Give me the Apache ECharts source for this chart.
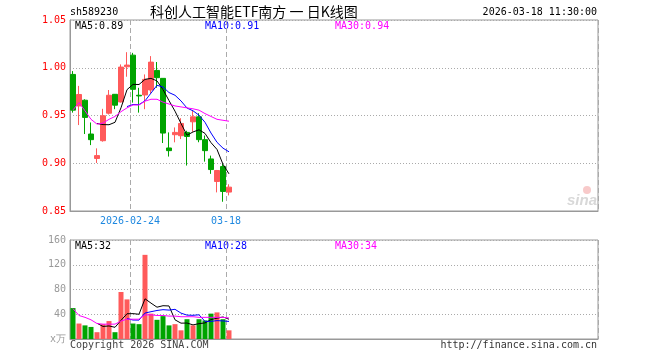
<!DOCTYPE html>
<html><head><meta charset="utf-8">
<script src="https://cdn.jsdelivr.net/npm/echarts@6/dist/echarts.min.js"></script>
<style>html,body{margin:0;padding:0;background:#fff}#c{width:660px;height:360px}</style>
</head><body><div id="c"></div>
<script>
const code = 'sh589230';
const title = '科创人工智能ETF南方 一 日K线图';
const stamp = '2026-03-18 11:30:00';
const dates = ['2026-02-02','2026-02-03','2026-02-04','2026-02-05','2026-02-06','2026-02-09','2026-02-10','2026-02-11','2026-02-12','2026-02-13','2026-02-24','2026-02-25','2026-02-26','2026-02-27','2026-03-02','2026-03-03','2026-03-04','2026-03-05','2026-03-06','2026-03-09','2026-03-10','2026-03-11','2026-03-12','2026-03-13','2026-03-16','2026-03-17','2026-03-18'];
const openP  = [0.993,0.960,0.966,0.9306,0.905,0.9236,0.9524,0.9722,0.9642,1.001,1.0132,0.9712,0.9715,0.9767,0.9972,0.9889,0.916,0.9299,0.9288,0.9323,0.9434,0.9486,0.9247,0.9045,0.8809,0.8965,0.8698];
const closeP = [0.9556,0.972,0.948,0.9247,0.908,0.9497,0.9712,0.9608,1.0007,1.0028,0.9774,0.9705,0.9878,1.0059,0.9896,0.9316,0.9132,0.9323,0.9417,0.928,0.9486,0.9247,0.9132,0.8934,0.8924,0.8705,0.875];
const highP  = [0.9965,0.981,0.967,0.9427,0.9156,0.957,0.9767,0.9725,1.0035,1.0163,1.0156,0.979,0.993,1.0122,1.006,0.9889,0.9323,0.9375,0.9472,0.934,0.955,0.9524,0.929,0.908,0.893,0.8993,0.878];
const lowP   = [0.953,0.940,0.9306,0.919,0.9003,0.9226,0.951,0.9566,0.9635,0.9906,0.9635,0.953,0.9566,0.973,0.979,0.9212,0.907,0.9219,0.9253,0.8976,0.933,0.922,0.9017,0.8889,0.8695,0.8597,0.8663];
const priceMA30 = [0.9559,0.9635,0.9549,0.946,0.941,0.942,0.946,0.949,0.954,0.958,0.961,0.961,0.965,0.967,0.967,0.964,0.962,0.960,0.959,0.958,0.957,0.9556,0.952,0.949,0.946,0.945,0.944];
const volume = [50,25,22,19.5,11,24,29,11,76,64,25,24,136,41,31,37,22,24,14,32,22,32,30,41,43,32,14];
const volMA30 = [49,38,35,31,25,24,24,24,29,32,32,32,39,39,38,38,37,37,36,36,36,35,35,35,35,35,34];
const xTickDates = ['2026-02-24','2026-03-18'];
const xTickLabels = ['2026-02-24','03-18'];
const volZeroLabel = 'x万';
const totalSlots = 88;

function ma(arr, n) {
  return arr.map((v, i) => {
    if (i < n - 1) return '-';
    let s = 0; for (let k = i - n + 1; k <= i; k++) s += arr[k];
    return s / n;
  });
}
const pMA5 = ma(closeP, 5), pMA10 = ma(closeP, 10);
const vMA5 = ma(volume, 5), vMA10 = ma(volume, 10);
const cats = dates.concat(new Array(totalSlots - dates.length).fill(''));
const tickIdx = xTickDates.map(d => dates.indexOf(d));
const UP = '#ff5a5a', DOWN = '#00a400';
const mono = "'DejaVu Sans Mono', 'Liberation Mono', monospace";
const last = a => a[a.length - 1];

const kData = dates.map((d, i) => [openP[i], closeP[i], lowP[i], highP[i]]);
const vData = volume.map((v, i) => ({value: v, itemStyle: {color: closeP[i] >= openP[i] ? UP : DOWN}}));

const splitV = {show: true, interval: (i) => tickIdx.includes(i), lineStyle: {color: '#aaa', type: [5, 3], width: 1}};
const gridDot = {show: true, lineStyle: {color: '#aaa', type: [1, 2], width: 1}};

const chart = echarts.init(document.getElementById('c'), null, {renderer: 'canvas'});
chart.setOption({
  animation: false,
  backgroundColor: '#fff',
  grid: [
    {left: 70, right: 62, top: 20, height: 191, show: true, borderColor: '#999', borderWidth: 1},
    {left: 70, right: 62, top: 240, height: 99, show: true, borderColor: '#999', borderWidth: 1}
  ],
  xAxis: [
    {type: 'category', gridIndex: 0, data: cats, boundaryGap: true,
     axisLine: {show: true, lineStyle: {color: '#999', width: 1}}, axisTick: {show: false},
     axisLabel: {interval: (i) => tickIdx.includes(i), formatter: (v, i) => xTickLabels[tickIdx.indexOf(i)] || '',
       color: '#1e88e0', fontFamily: mono, fontSize: 10, margin: 5, padding: [0, 6, 0, 0]},
     splitLine: splitV},
    {type: 'category', gridIndex: 1, data: cats, boundaryGap: true,
     axisLine: {show: true, lineStyle: {color: '#999'}}, axisTick: {show: false}, axisLabel: {show: false},
     splitLine: splitV}
  ],
  yAxis: [
    {type: 'value', gridIndex: 0, min: 0.85, max: 1.05, interval: 0.05,
     axisLine: {show: true, lineStyle: {color: '#999'}}, axisTick: {show: false},
     axisLabel: {color: '#f00', fontFamily: mono, fontSize: 10, margin: 4, formatter: v => v.toFixed(2)},
     splitLine: gridDot},
    {type: 'value', gridIndex: 1, min: 0, max: 160, interval: 40,
     axisLine: {show: true, lineStyle: {color: '#999'}}, axisTick: {show: false},
     axisLabel: {color: '#999', fontFamily: mono, fontSize: 10, margin: 4, formatter: v => v === 0 ? volZeroLabel : String(v)},
     splitLine: gridDot}
  ],
  series: [
    {type: 'candlestick', xAxisIndex: 0, yAxisIndex: 0, data: kData, barWidth: 5,
     itemStyle: {color: UP, color0: DOWN, borderColor: UP, borderColor0: DOWN, borderWidth: 1}},
    {type: 'line', xAxisIndex: 0, yAxisIndex: 0, data: pMA5, symbol: 'none', lineStyle: {color: '#000', width: 1}},
    {type: 'line', xAxisIndex: 0, yAxisIndex: 0, data: pMA10, symbol: 'none', lineStyle: {color: '#0000ff', width: 1}},
    {type: 'line', xAxisIndex: 0, yAxisIndex: 0, data: priceMA30, symbol: 'none', lineStyle: {color: '#ff00ff', width: 1}},
    {type: 'bar', xAxisIndex: 1, yAxisIndex: 1, data: vData, barWidth: 5},
    {type: 'line', xAxisIndex: 1, yAxisIndex: 1, data: vMA5, symbol: 'none', lineStyle: {color: '#000', width: 1}},
    {type: 'line', xAxisIndex: 1, yAxisIndex: 1, data: vMA10, symbol: 'none', lineStyle: {color: '#0000ff', width: 1}},
    {type: 'line', xAxisIndex: 1, yAxisIndex: 1, data: volMA30, symbol: 'none', lineStyle: {color: '#ff00ff', width: 1}}
  ],
  graphic: [
    {type: 'text', left: 70, top: 7, style: {text: code, font: '10px ' + mono, fill: '#000'}},
    {type: 'text', left: 150, top: 5, style: {text: title, font: '14px "Noto Sans CJK SC", sans-serif', fill: '#000'}},
    {type: 'text', right: 63, top: 7, style: {text: stamp, font: '10px ' + mono, fill: '#000'}},
    {type: 'text', left: 75, top: 21, style: {text: 'MA5:' + last(pMA5).toFixed(2), font: '10px ' + mono, fill: '#000'}},
    {type: 'text', left: 205, top: 21, style: {text: 'MA10:' + last(pMA10).toFixed(2), font: '10px ' + mono, fill: '#0000ff'}},
    {type: 'text', left: 335, top: 21, style: {text: 'MA30:' + last(priceMA30).toFixed(2), font: '10px ' + mono, fill: '#ff00ff'}},
    {type: 'text', left: 75, top: 241, style: {text: 'MA5:' + Math.round(last(vMA5)), font: '10px ' + mono, fill: '#000'}},
    {type: 'text', left: 205, top: 241, style: {text: 'MA10:' + Math.round(last(vMA10)), font: '10px ' + mono, fill: '#0000ff'}},
    {type: 'text', left: 335, top: 241, style: {text: 'MA30:' + Math.round(last(volMA30)), font: '10px ' + mono, fill: '#ff00ff'}},
    {type: 'text', left: 70, top: 340, style: {text: 'Copyright 2026 SINA.COM', font: '10px ' + mono, fill: '#444'}},
    {type: 'text', right: 63, top: 340, style: {text: 'http://finance.sina.com.cn', font: '10px ' + mono, fill: '#333'}},
    {type: 'circle', shape: {cx: 587, cy: 190, r: 4}, style: {fill: '#f8caca'}},
    {type: 'text', left: 567, top: 193, style: {text: 'sina', font: 'italic bold 15px sans-serif', fill: '#d8d8d8'}}
  ]
});
</script></body></html>
